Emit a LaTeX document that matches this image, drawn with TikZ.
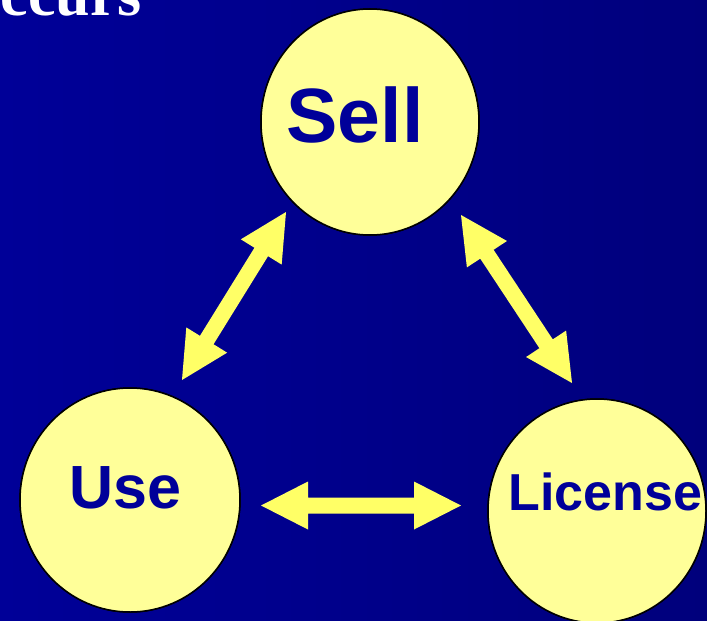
\documentclass[tikz,border=0pt]{standalone}
\usepackage{fontspec}
\setmainfont{Liberation Serif}
\newfontfamily\labelfont{Liberation Sans}
\usetikzlibrary{calc}

\definecolor{bgleft}{RGB}{0,0,152}
\definecolor{bgright}{RGB}{0,0,124}
\definecolor{disc}{RGB}{255,255,153}
\definecolor{arrowyellow}{RGB}{255,255,102}
\definecolor{labelblue}{RGB}{0,0,153}

\tikzset{
  disc/.style={fill=disc, draw=black, line width=1.5pt},
  circlabel/.style={text=labelblue, font=\labelfont\bfseries, inner sep=0pt},
  headline/.style={text=white, font=\bfseries\fontsize{62}{62}\selectfont, inner sep=0pt},
  blockarrow/.style={fill=arrowyellow},
}

% double-headed block arrow between two named tips
\newcommand\hlen{47pt}
\newcommand\hwid{24pt}
\newcommand\swid{8pt}
\newcommand\dblblock[2]{%
  \fill[blockarrow] (#1)
    -- ($(#1)!\hlen!(#2)!\hwid!90:(#2)$)
    -- ($(#1)!\hlen!(#2)!\swid!90:(#2)$)
    -- ($(#2)!\hlen!(#1)!\swid!-90:(#1)$)
    -- ($(#2)!\hlen!(#1)!\hwid!-90:(#1)$)
    -- (#2)
    -- ($(#2)!\hlen!(#1)!\hwid!90:(#1)$)
    -- ($(#2)!\hlen!(#1)!\swid!90:(#1)$)
    -- ($(#1)!\hlen!(#2)!\swid!-90:(#2)$)
    -- ($(#1)!\hlen!(#2)!\hwid!-90:(#2)$)
    -- cycle;}

\begin{document}
\begin{tikzpicture}[x=1pt, y=-1pt]
  \useasboundingbox (0,0) rectangle (707,621);
  \clip (0,0) rectangle (707,621);
  \shade[left color=bgleft, right color=bgright] (0,0) rectangle (707,621);

  % partial title line
  \node[headline, anchor=base east] (title) at (142,15) {ccurs};

  % the three discs
  \fill[disc] (370,122) ellipse [x radius=109, y radius=113];
  \fill[disc] (130,500) ellipse [x radius=110, y radius=112];
  \fill[disc] (597,511) ellipse [x radius=109, y radius=112];
  \draw[disc] (370,122) ellipse [x radius=109, y radius=113];
  \draw[disc] (130,500) ellipse [x radius=110, y radius=112];
  \draw[disc] (597,511) ellipse [x radius=109, y radius=112];

  \node[circlabel, font=\labelfont\bfseries\fontsize{77}{77}\selectfont, anchor=base]
    (sell) at (355,142) {Sell};
  \node[circlabel, font=\labelfont\bfseries\fontsize{61}{61}\selectfont, anchor=base]
    (use) at (125,508) {Use};
  \node[circlabel, font=\labelfont\bfseries\fontsize{52}{52}\selectfont, anchor=base]
    (license) at (605.5,510) {License};

  % arrow tips
  \coordinate (sellL) at (286,212);
  \coordinate (useT)  at (182,380);
  \coordinate (sellR) at (461,215);
  \coordinate (licT)  at (572,383);
  \coordinate (useR)  at (261,505.5);
  \coordinate (licL)  at (461,505.5);

  \dblblock{sellL}{useT}
  \dblblock{sellR}{licT}
  \dblblock{useR}{licL}
\end{tikzpicture}
\end{document}
